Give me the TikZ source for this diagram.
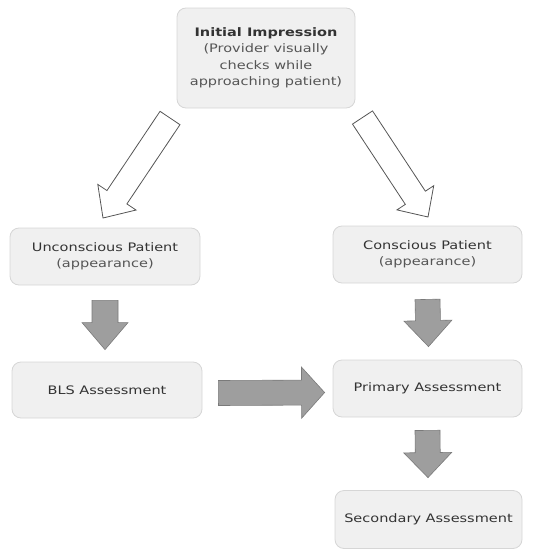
\documentclass[tikz,border=0pt]{standalone}
\usepackage{fontspec}
\usetikzlibrary{calc}
\newfontfamily\boxfont{DejaVu Sans}[FakeStretch=1.24]
\definecolor{boxfill}{HTML}{F0F0F0}
\definecolor{boxline}{HTML}{D6D6D6}
\definecolor{txtmain}{HTML}{333333}
\definecolor{txtsub}{HTML}{555555}
\definecolor{arrfill}{HTML}{9E9E9E}
\definecolor{arrline}{HTML}{7A7A7A}
\definecolor{hollowline}{HTML}{555555}
% #1 style, #2 tail, #3 tip, #4 shaft half width, #5 head half width, #6 head length
\newcommand\blockarrow[6]{%
  \coordinate (ba-base) at ($(#3)!#6!(#2)$);
  \draw[#1] ($(#2)!#4!90:(#3)$) -- ($(ba-base)!#4!90:(#3)$) -- ($(ba-base)!#5!90:(#3)$)
    -- (#3) -- ($(ba-base)!#5!-90:(#3)$) -- ($(ba-base)!#4!-90:(#3)$)
    -- ($(#2)!#4!-90:(#3)$) -- cycle;
}
\begin{document}
\begin{tikzpicture}[x=1pt,y=-1pt,
  box/.style={rectangle, rounded corners=9pt, fill=boxfill, draw=boxline, line width=0.8pt,
    align=center, text=txtmain, font=\boxfont\fontsize{11.7}{16.5}\selectfont, inner sep=2pt},
  hollow/.style={fill=white, draw=hollowline, line width=0.8pt, line join=miter},
  solidarr/.style={fill=arrfill, draw=arrline, line width=0.6pt, line join=miter}]
\useasboundingbox (0,0) rectangle (535,549);

\node[box, minimum width=178pt, minimum height=100pt] (init) at (266,58)
  {\textbf{Initial Impression}\\\textcolor{txtsub}{(Provider visually}\\\textcolor{txtsub}{checks while}\\\textcolor{txtsub}{approaching patient)}};
\node[box, minimum width=190pt, minimum height=57pt] (uncons) at (105,256.5)
  {Unconscious Patient\\\textcolor{txtsub}{(appearance)}};
\node[box, minimum width=189pt, minimum height=57pt] (cons) at (427.5,254.5)
  {Conscious Patient\\\textcolor{txtsub}{(appearance)}};
\node[box, minimum width=190pt, minimum height=56pt] (bls) at (107,390)
  {BLS Assessment};
\node[box, minimum width=189pt, minimum height=57pt] (prim) at (427.5,388.5)
  {Primary Assessment};
\node[box, minimum width=187pt, minimum height=58pt] (sec) at (428.5,519.5)
  {Secondary Assessment};

% hollow arrows
\coordinate (l-tail) at (170,118);
\coordinate (l-tip) at (103,218);
\coordinate (r-tail) at (362.5,117.5);
\coordinate (r-tip) at (428,217);
\blockarrow{hollow}{l-tail}{l-tip}{12pt}{23pt}{25pt}
\blockarrow{hollow}{r-tail}{r-tip}{12pt}{22pt}{23pt}

% gray arrows
\coordinate (d1-tail) at ($(uncons.south)+(0,15)$);
\coordinate (d1-tip) at ($(bls.north)+(-2,-12)$);
\coordinate (d2-tail) at ($(cons.south)+(0,16)$);
\coordinate (d2-tip) at ($(prim.north)+(1,-13)$);
\coordinate (d3-tail) at ($(prim.south)+(0,13)$);
\coordinate (d3-tip) at ($(sec.north)+(-0.5,-12.5)$);
\coordinate (h-tail) at ($(bls.east)+(16,3)$);
\coordinate (h-tip) at ($(prim.west)+(-8,4)$);
\blockarrow{solidarr}{d1-tail}{d1-tip}{13pt}{23pt}{27pt}
\blockarrow{solidarr}{d2-tail}{d2-tip}{12.5pt}{24pt}{26pt}
\blockarrow{solidarr}{d3-tail}{d3-tip}{12.5pt}{24pt}{25pt}
\blockarrow{solidarr}{h-tail}{h-tip}{12.5pt}{25.5pt}{23pt}
\end{tikzpicture}
\end{document}
